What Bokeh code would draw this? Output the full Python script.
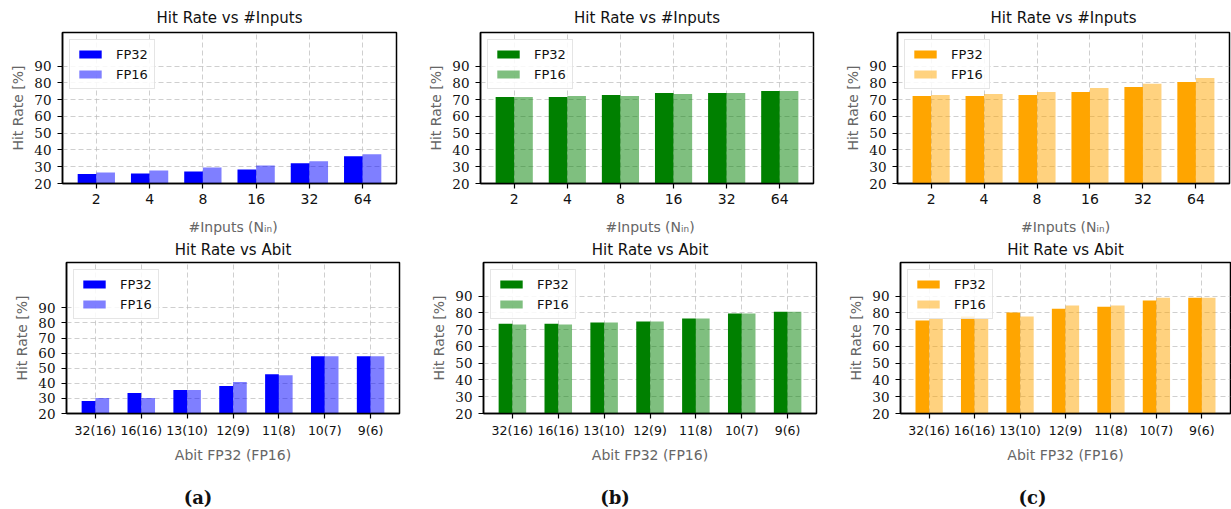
from bokeh.plotting import figure
from bokeh.models import Range1d, FixedTicker, Legend, LegendItem, Div, ColumnDataSource, Title
from bokeh.layouts import column, row
from bokeh.transform import dodge
from bokeh.embed import file_html
from bokeh.resources import INLINE

# ---------------- data ----------------
inputs_labels = ["2", "4", "8", "16", "32", "64"]
abit_labels = ["32(16)", "16(16)", "13(10)", "12(9)", "11(8)", "10(7)", "9(6)"]

a_inputs_fp32 = [25.6, 26.0, 27.2, 28.4, 32.0, 36.2]
a_inputs_fp16 = [26.6, 27.8, 29.6, 30.8, 33.2, 37.4]
b_inputs_fp32 = [71.5, 71.5, 72.7, 73.9, 73.9, 75.1]
b_inputs_fp16 = [71.5, 72.1, 72.1, 73.3, 73.9, 75.1]
c_inputs_fp32 = [72.1, 72.1, 72.7, 74.5, 77.5, 80.5]
c_inputs_fp16 = [72.7, 73.3, 74.5, 76.9, 79.5, 82.9]

a_abit_fp32 = [28.3, 33.6, 35.5, 38.2, 46.0, 57.9, 57.9]
a_abit_fp16 = [30.3, 30.3, 35.5, 40.8, 45.4, 57.9, 57.9]
b_abit_fp32 = [73.5, 73.5, 74.2, 74.8, 76.6, 79.6, 80.7]
b_abit_fp16 = [73.1, 73.1, 74.2, 74.8, 76.6, 79.6, 80.7]
c_abit_fp32 = [75.4, 77.8, 80.2, 82.5, 83.7, 87.3, 89.0]
c_abit_fp16 = [76.6, 76.6, 77.8, 84.3, 84.3, 89.0, 89.0]

y_ticks = [20, 30, 40, 50, 60, 70, 80, 90]
series_names = ["FP32", "FP16"]
colors = {"a": "#0000ff", "b": "#008000", "c": "#ffa500"}
captions = ["(a)", "(b)", "(c)"]

title_inputs = "Hit Rate vs #Inputs"
title_abit = "Hit Rate vs Abit"
xlabel_inputs = "#Inputs (N\u1d62\u2099)"
xlabel_abit = "Abit FP32 (FP16)"
ylabel = "Hit Rate [%]"

SANS = "DejaVu Sans"
SERIF = "DejaVu Serif"
GRAY = "#666666"
DARK = "#111111"


def make_panel(labels, fp32, fp16, color, ymax, bar_w, title, xlabel,
               width, height, bl, br, bt, bb, tick_size, tick_standoff, lab_standoff,
               title_standoff, upper_xlabel=None):
    n = len(labels)
    xs = list(range(n))
    src = ColumnDataSource(dict(x=xs, fp32=fp32, fp16=fp16))
    margin = 0.05 * (n - 1 + bar_w * 2)
    p = figure(width=width, height=height, output_backend="svg", toolbar_location=None,
               x_range=Range1d(-bar_w - margin, n - 1 + bar_w + margin),
               y_range=Range1d(20, ymax),
               min_border_left=bl, min_border_right=br,
               min_border_top=bt, min_border_bottom=bb)
    r1 = p.vbar(x=dodge("x", -bar_w / 2, range=p.x_range), top="fp32", bottom=0,
                width=bar_w, source=src, fill_color=color, line_color=None)
    r2 = p.vbar(x=dodge("x", bar_w / 2, range=p.x_range), top="fp16", bottom=0,
                width=bar_w, source=src, fill_color=color, fill_alpha=0.5, line_color=None)

    p.title.align = "center"
    p.title.text_font = SANS
    p.title.text_font_style = "normal"
    if upper_xlabel is None:
        p.title.text = title
        p.title.text_font_size = "15px"
        p.title.text_color = DARK
        p.title.standoff = title_standoff
    else:
        # outer title slot: x-axis label of the chart above (sits between the rows)
        p.title.text = upper_xlabel
        p.title.text_font_size = "14px"
        p.title.text_color = GRAY
        p.title.standoff = 2
        t = Title(text=title, align="center", text_font=SANS, text_font_size="15px",
                  text_font_style="normal", text_color=DARK, standoff=title_standoff)
        p.add_layout(t, "above")

    p.outline_line_color = "black"
    p.outline_line_width = 1.5
    p.outline_line_alpha = 1.0

    # axes
    p.xaxis.ticker = FixedTicker(ticks=xs)
    p.xaxis.major_label_overrides = {i: l for i, l in enumerate(labels)}
    p.yaxis.ticker = FixedTicker(ticks=y_ticks)
    for ax in (p.xaxis[0], p.yaxis[0]):
        ax.axis_line_color = "black"
        ax.axis_line_width = 1.5
        ax.major_tick_line_color = "black"
        ax.major_tick_line_width = 1.2
        ax.major_tick_out = 5
        ax.major_tick_in = 0
        ax.minor_tick_line_color = None
        ax.axis_label_text_color = GRAY
        ax.axis_label_text_font = SANS
        ax.axis_label_text_font_style = "normal"
        ax.axis_label_text_font_size = "14px"
    p.xaxis.major_label_text_font = SANS
    p.xaxis.major_label_text_font_size = tick_size
    p.xaxis.major_label_text_color = DARK
    p.xaxis.major_label_standoff = tick_standoff
    if xlabel is not None:
        p.xaxis.axis_label = xlabel
        p.xaxis.axis_label_standoff = lab_standoff
    p.yaxis.major_label_text_font = SERIF
    p.yaxis.major_label_text_font_size = "13.5px"
    p.yaxis.major_label_text_color = DARK
    p.yaxis.major_label_standoff = 6
    p.yaxis.axis_label = ylabel
    p.yaxis.axis_label_standoff = 5

    # grid
    for g in (p.xgrid[0], p.ygrid[0]):
        g.grid_line_color = "#bbbbbb"
        g.grid_line_alpha = 0.7
        g.grid_line_dash = "5 3"
        g.grid_line_width = 1

    legend = Legend(items=[LegendItem(label=series_names[0], renderers=[r1]),
                           LegendItem(label=series_names[1], renderers=[r2])],
                    location="top_left")
    legend.margin = 7
    legend.padding = 6
    legend.spacing = 4
    legend.glyph_width = 28
    legend.glyph_height = 10
    legend.label_height = 16
    legend.label_standoff = 12
    legend.label_text_font = SANS
    legend.label_text_font_size = "13px"
    legend.label_text_color = DARK
    legend.border_line_color = "#cccccc"
    legend.border_line_width = 1
    legend.background_fill_alpha = 0.85
    p.add_layout(legend)
    return p


W = [425, 417, 389]
TOP_H = 215
BOT_H = 255
top_a = make_panel(inputs_labels, a_inputs_fp32, a_inputs_fp16, colors["a"], 110, 0.35,
                   title_inputs, None, W[0], TOP_H, 62, 29, 32, 32, "14px", 5, 0, 11)
top_b = make_panel(inputs_labels, b_inputs_fp32, b_inputs_fp16, colors["b"], 110, 0.35,
                   title_inputs, None, W[1], TOP_H, 54, 29, 32, 32, "14px", 5, 0, 11)
top_c = make_panel(inputs_labels, c_inputs_fp32, c_inputs_fp16, colors["c"], 110, 0.35,
                   title_inputs, None, W[2], TOP_H, 55, 2, 32, 32, "14px", 5, 0, 11)

bot_a = make_panel(abit_labels, a_abit_fp32, a_abit_fp16, colors["a"], 120, 0.3,
                   title_abit, xlabel_abit, W[0], BOT_H, 66, 26, 45, 57, "12.5px", 4, 6, 7,
                   upper_xlabel=xlabel_inputs)
bot_b = make_panel(abit_labels, b_abit_fp32, b_abit_fp16, colors["b"], 110, 0.3,
                   title_abit, xlabel_abit, W[1], BOT_H, 58, 26, 45, 57, "12.5px", 4, 6, 7,
                   upper_xlabel=xlabel_inputs)
bot_c = make_panel(abit_labels, c_abit_fp32, c_abit_fp16, colors["c"], 110, 0.3,
                   title_abit, xlabel_abit, W[2], BOT_H, 58, 1, 45, 57, "12.5px", 4, 6, 7,
                   upper_xlabel=xlabel_inputs)

cap_w = [396, 438, 397]
caps = [Div(text=('<div style="width:%dpx;padding-top:19px;text-align:center;'
                  'font-family:\'DejaVu Serif\';font-weight:bold;font-size:18px;'
                  'line-height:18px;color:#111">%s</div>' % (w, c)),
            width=w, height=39, margin=0) for c, w in zip(captions, cap_w)]

layout = column(row(top_a, top_b, top_c), row(bot_a, bot_b, bot_c), row(*caps))
open("out.html", "w").write(file_html(layout, INLINE))
